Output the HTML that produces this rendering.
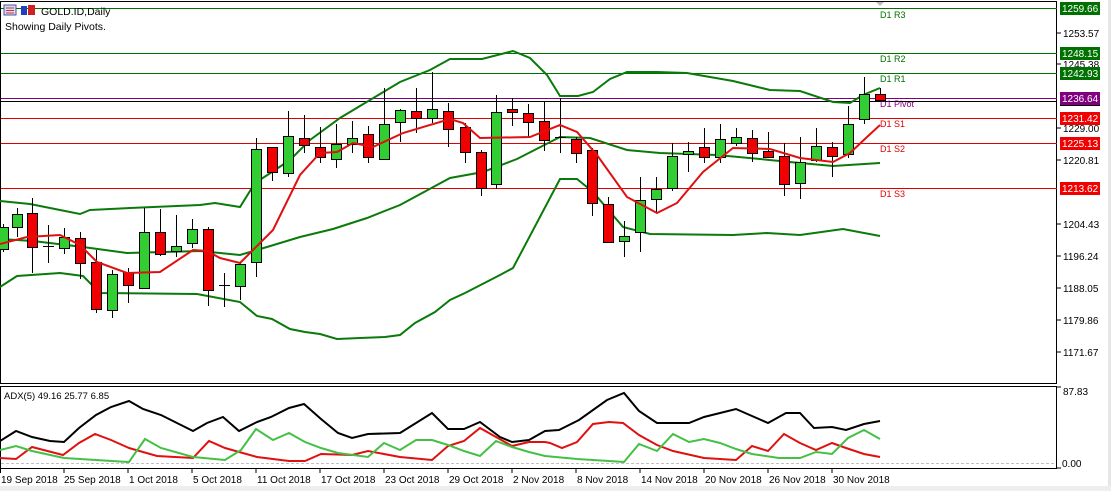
<!DOCTYPE html>
<html><head><meta charset="utf-8"><style>
html,body{margin:0;padding:0;background:#fff;width:1111px;height:491px;overflow:hidden}
svg{display:block;font-family:"Liberation Sans",sans-serif}
</style></head><body>
<svg id="s" width="1111" height="491" viewBox="0 0 1111 491" xmlns="http://www.w3.org/2000/svg">
<rect x="0" y="0" width="1111" height="491" fill="#fff"/>
<rect x="1108" y="0" width="3" height="491" fill="#e6e6e6"/>
<rect x="0" y="486" width="1111" height="5" fill="#eeeeee"/>
<!-- frames -->
<rect x="0.5" y="1.5" width="1056" height="382" fill="none" stroke="#000"/>
<rect x="0.5" y="386.5" width="1056" height="82" fill="none" stroke="#000"/>
<!-- pivot lines -->
<g stroke-width="1">
<line x1="1" y1="8.5" x2="1057" y2="8.5" stroke="#007000"/>
<line x1="1" y1="53.5" x2="1057" y2="53.5" stroke="#007000"/>
<line x1="1" y1="73.5" x2="1057" y2="73.5" stroke="#007000"/>
<line x1="1" y1="98.5" x2="1057" y2="98.5" stroke="#800080"/>
<line x1="1" y1="101.5" x2="1057" y2="101.5" stroke="#000"/>
<line x1="1" y1="118.5" x2="1057" y2="118.5" stroke="#e00000"/>
<line x1="1" y1="143.5" x2="1057" y2="143.5" stroke="#e00000"/>
<line x1="1" y1="188.5" x2="1057" y2="188.5" stroke="#e00000"/>
</g>
<g font-size="9" >
<text x="880" y="18" fill="#007000">D1 R3</text>
<text x="880" y="62" fill="#007000">D1 R2</text>
<text x="880" y="82" fill="#007000">D1 R1</text>
<text x="880" y="107" fill="#800080">D1 Pivot</text>
<text x="880" y="127" fill="#e00000">D1 S1</text>
<text x="880" y="152" fill="#e00000">D1 S2</text>
<text x="880" y="197" fill="#e00000">D1 S3</text>
</g>
<polygon points="876,2 884,2 880,6" fill="#bbb"/>
<!-- Bollinger -->
<g fill="none" stroke="#0a7a0a" stroke-width="2">
<polyline points="0,201 30,204 60,210 80,214 90,210 130,208 200,205 215,203 240,207 255,183 272,172 290,160 310,140 340,118 370,100 400,82 430,70 450,59 482,59 513,51 530,58 547,75 560,96 578,96 593,92 610,79 627,72 657,72 687,73 733,81 770,90 800,91 833,102 850,103 863,95 880,88"/>
<polyline points="0,239 33,241 83,247 127,253 200,251 240,255 267,247 300,237 333,229 367,218 400,205 450,178 483,172 517,159 560,137 590,138 627,150 660,153 717,155 760,159 800,163 833,166 880,163"/>
<polyline points="0,287 17,276 60,273 83,276 100,293 197,294 240,302 257,316 272,319 290,329 305,332 320,334 337,339 360,338 385,337 400,335 415,323 435,312 450,300 465,293 500,275 513,268 560,179 577,179 593,192 623,227 650,234 733,235 767,233 800,235 843,229 880,236"/>
</g>
<g id="candles"></g>
<polyline fill="none" stroke="#e01010" stroke-width="2" points="0,244 27,237 60,235 80,245 97,262 127,273 160,272 193,250 207,251 220,258 240,263 273,230 300,175 320,153 337,152 353,143 373,147 403,133 450,119 463,123 480,138 530,137 560,125 577,132 597,155 627,197 657,213 677,203 703,172 733,148 770,149 800,158 833,162 850,153 867,137 880,125"/>
<!-- header -->
<rect x="4" y="5" width="12" height="10" fill="#d8d8f0" stroke="#5050a0"/>
<line x1="6" y1="8" x2="14" y2="8" stroke="#c04040"/><line x1="6" y1="10.5" x2="14" y2="10.5" stroke="#c04040"/><line x1="6" y1="13" x2="14" y2="13" stroke="#c04040"/>
<rect x="21" y="6" width="6" height="9" fill="#2040c0"/><rect x="28" y="5" width="7" height="10" fill="#d02020"/>
<text x="41" y="15" font-size="10.5" fill="#000">GOLD.ID,Daily</text>
<text x="5" y="30" font-size="10.5" fill="#000">Showing Daily Pivots.</text>
<!-- price axis -->
<g font-size="10" fill="#000">
<g stroke="#000">
<line x1="1057" y1="33" x2="1061" y2="33"/><line x1="1057" y1="64" x2="1061" y2="64"/><line x1="1057" y1="128" x2="1061" y2="128"/><line x1="1057" y1="160" x2="1061" y2="160"/><line x1="1057" y1="224" x2="1061" y2="224"/><line x1="1057" y1="256" x2="1061" y2="256"/><line x1="1057" y1="288" x2="1061" y2="288"/><line x1="1057" y1="320" x2="1061" y2="320"/><line x1="1057" y1="352" x2="1061" y2="352"/><line x1="1057" y1="387" x2="1061" y2="387"/><line x1="1057" y1="468" x2="1061" y2="468"/>
</g>
<text x="1063" y="37">1253.57</text>
<text x="1063" y="68">1245.38</text>
<text x="1063" y="132">1229.00</text>
<text x="1063" y="164">1220.81</text>
<text x="1063" y="228">1204.43</text>
<text x="1063" y="260">1196.24</text>
<text x="1063" y="292">1188.05</text>
<text x="1063" y="324">1179.86</text>
<text x="1063" y="356">1171.67</text>
<rect x="1060" y="99" width="40" height="7" fill="#000"/>
<rect x="1060" y="2" width="40" height="13" fill="#007000"/><text x="1062" y="12" fill="#fff">1259.66</text>
<rect x="1060" y="47" width="40" height="13" fill="#007000"/><text x="1062" y="57" fill="#fff">1248.15</text>
<rect x="1060" y="67" width="40" height="13" fill="#007000"/><text x="1062" y="77" fill="#fff">1242.93</text>
<rect x="1060" y="92" width="40" height="13" fill="#800080"/><text x="1062" y="102" fill="#fff">1236.64</text>
<rect x="1060" y="112" width="40" height="13" fill="#f00000"/><text x="1062" y="122" fill="#fff">1231.42</text>
<rect x="1060" y="137" width="40" height="13" fill="#f00000"/><text x="1062" y="147" fill="#fff">1225.13</text>
<rect x="1060" y="182" width="40" height="13" fill="#f00000"/><text x="1062" y="192" fill="#fff">1213.62</text>
<text x="1063" y="395">87.83</text>
<text x="1062" y="467">0.00</text>
</g>
<!-- ADX -->
<line x1="1" y1="463.5" x2="1056" y2="463.5" stroke="#c0c0c0" stroke-dasharray="3,2"/>
<text x="4" y="399" font-size="9.5" fill="#000">ADX(5) 49.16 25.77 6.85</text>
<g fill="none" stroke-width="2">
<polyline stroke="#000" points="0,441 16,431 32,437 50,441 64,442 79,428 96,415 111,407 129,401 143,409 161,415 193,431 207,423 223,417 239,431 257,422 271,417 289,408 304,404 321,419 338,433 352,438 368,434 400,433 432,413 448,429 464,429 480,422 500,437 512,442 529,440 545,431 559,430 579,420 607,400 624,393 639,411 657,423 689,423 704,417 736,409 768,423 786,413 800,413 814,428 832,427 846,430 864,424 880,421"/>
<polyline stroke="#e01010" points="0,458 16,459 32,447 63,455 79,443 95,434 111,440 129,448 157,456 193,458 209,441 225,448 257,457 289,461 305,461 321,454 352,455 368,451 400,457 432,460 448,446 464,441 480,428 496,437 512,446 529,442 545,442 550,443 562,448 577,442 593,424 609,422 623,423 639,435 657,445 673,451 704,458 736,460 752,446 768,451 784,434 800,443 816,450 832,443 846,448 864,454 880,457"/>
<polyline stroke="#44c044" points="0,450 16,446 32,451 64,458 96,460 129,462 145,439 161,448 193,457 225,460 241,450 256,429 273,440 289,433 305,442 321,448 338,453 368,457 384,443 400,450 416,440 432,440 448,445 464,451 480,456 496,441 512,447 529,452 545,456 577,459 609,461 624,462 639,444 657,451 673,434 689,442 704,439 720,443 736,449 752,454 779,458 800,458 816,452 832,454 848,438 864,430 880,439"/>
</g>
<!-- date axis -->
<g font-size="10" fill="#000">
<g stroke="#000"><line x1="0.5" y1="469" x2="0.5" y2="473"/><line x1="64" y1="469" x2="64" y2="473"/><line x1="128" y1="469" x2="128" y2="473"/><line x1="192" y1="469" x2="192" y2="473"/><line x1="256" y1="469" x2="256" y2="473"/><line x1="320" y1="469" x2="320" y2="473"/><line x1="384" y1="469" x2="384" y2="473"/><line x1="448" y1="469" x2="448" y2="473"/><line x1="512" y1="469" x2="512" y2="473"/><line x1="576" y1="469" x2="576" y2="473"/><line x1="640" y1="469" x2="640" y2="473"/><line x1="704" y1="469" x2="704" y2="473"/><line x1="768" y1="469" x2="768" y2="473"/><line x1="832" y1="469" x2="832" y2="473"/></g>
<text x="1" y="483">19 Sep 2018</text>
<text x="64" y="483">25 Sep 2018</text>
<text x="129" y="483">1 Oct 2018</text>
<text x="193" y="483">5 Oct 2018</text>
<text x="257" y="483">11 Oct 2018</text>
<text x="321" y="483">17 Oct 2018</text>
<text x="385" y="483">23 Oct 2018</text>
<text x="449" y="483">29 Oct 2018</text>
<text x="513" y="483">2 Nov 2018</text>
<text x="577" y="483">8 Nov 2018</text>
<text x="641" y="483">14 Nov 2018</text>
<text x="705" y="483">20 Nov 2018</text>
<text x="769" y="483">26 Nov 2018</text>
<text x="833" y="483">30 Nov 2018</text>
</g>
</svg>
<script>
var C=[[3,227,249,224,252,'g'],[17,214,227,208,237,'g'],[32,213,247,198,273,'r'],[48,246,246,225,263,'d'],[64,237,248,228,254,'g'],[80,238,263,232,279,'r'],[96,262,309,250,313,'r'],[112,274,310,270,318,'g'],[128,272,285,268,303,'r'],[144,232,288,208,288,'g'],[160,232,254,209,256,'r'],[176,246,251,215,257,'g'],[192,229,243,219,248,'g'],[208,229,290,227,306,'r'],[224,285,285,273,307,'d'],[240,264,286,262,300,'g'],[256,149,262,138,277,'g'],[272,147,172,147,181,'r'],[288,136,173,111,177,'g'],[304,138,145,115,153,'r'],[320,147,157,127,163,'r'],[336,144,159,124,168,'g'],[352,138,144,121,153,'g'],[368,134,157,126,163,'r'],[384,124,159,88,159,'g'],[400,110,122,109,142,'g'],[416,111,118,88,133,'r'],[432,109,118,72,123,'g'],[448,111,129,103,147,'r'],[465,127,152,123,163,'r'],[481,152,188,150,196,'r'],[496,112,184,95,189,'g'],[512,109,112,98,126,'r'],[528,113,122,104,137,'r'],[544,121,140,102,151,'r'],[560,137,137,98,153,'d'],[576,139,153,137,163,'r'],[592,150,203,148,216,'r'],[608,204,242,197,242,'r'],[624,236,241,221,257,'g'],[640,200,232,177,252,'g'],[656,189,199,177,212,'g'],[672,156,188,143,191,'g'],[688,151,154,142,172,'g'],[704,147,157,128,163,'r'],[720,139,157,124,163,'g'],[736,137,143,128,146,'g'],[752,138,153,130,162,'r'],[768,151,157,132,158,'r'],[784,156,184,143,196,'r'],[800,162,183,137,199,'g'],[816,146,160,128,162,'g'],[832,147,156,142,177,'r'],[848,124,154,106,158,'g'],[864,94,119,77,124,'g'],[880,94,100,88,100,'r']];
var ns='http://www.w3.org/2000/svg',g=document.getElementById('candles'),h='';
C.forEach(function(c){var x=c[0];
h+='<line x1="'+(x+.5)+'" y1="'+c[3]+'" x2="'+(x+.5)+'" y2="'+c[4]+'" stroke="#000"/>';
if(c[5]=='d'){h+='<line x1="'+(x-5)+'" y1="'+(c[1]+.5)+'" x2="'+(x+6)+'" y2="'+(c[1]+.5)+'" stroke="#000"/>';}
else{var hh=Math.max(c[2]-c[1],1);h+='<rect x="'+(x-4.5)+'" y="'+(c[1]+.5)+'" width="10" height="'+hh+'" fill="'+(c[5]=='g'?'#32cd32':'#f00000')+'" stroke="#000"/>';}
});
g.innerHTML=h;
</script>
</body></html>
